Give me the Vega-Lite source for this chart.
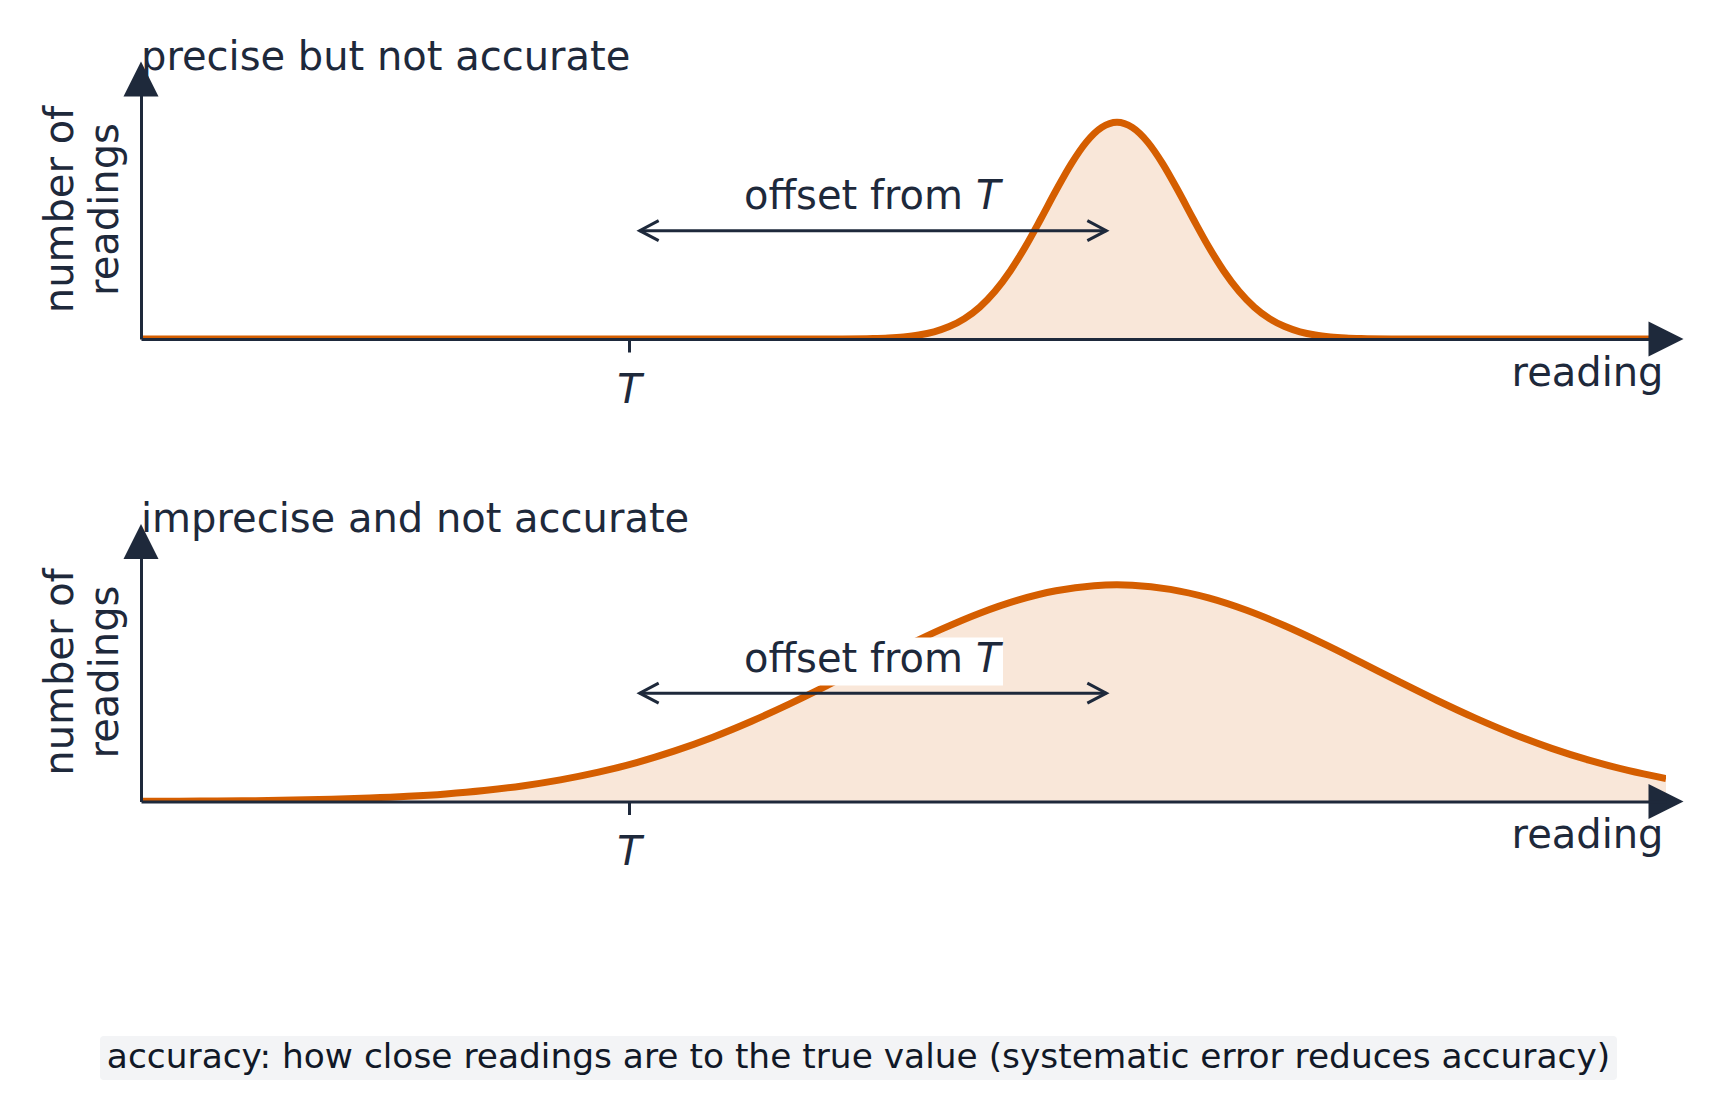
{
  "$schema": "https://vega.github.io/schema/vega-lite/v6.json",
  "padding": {"left": 40, "top": 37, "right": 5, "bottom": 5},
  "background": "white",
  "datasets": {
    "precise": [
      {"reading": 0, "count": 0}, {"reading": 1, "count": 0}, {"reading": 2, "count": 0},
      {"reading": 3, "count": 0}, {"reading": 4, "count": 0}, {"reading": 4.4, "count": 0.00008},
      {"reading": 4.6, "count": 0.00047}, {"reading": 4.8, "count": 0.00236}, {"reading": 4.9, "count": 0.0049},
      {"reading": 5.0, "count": 0.00975}, {"reading": 5.1, "count": 0.0184}, {"reading": 5.2, "count": 0.0333},
      {"reading": 5.3, "count": 0.0573}, {"reading": 5.4, "count": 0.0941}, {"reading": 5.5, "count": 0.1475},
      {"reading": 5.6, "count": 0.2204}, {"reading": 5.7, "count": 0.3142}, {"reading": 5.8, "count": 0.4271},
      {"reading": 5.9, "count": 0.5539}, {"reading": 6.0, "count": 0.6852}, {"reading": 6.1, "count": 0.8084},
      {"reading": 6.2, "count": 0.9098}, {"reading": 6.3, "count": 0.9766}, {"reading": 6.4, "count": 1},
      {"reading": 6.5, "count": 0.9766}, {"reading": 6.6, "count": 0.9098}, {"reading": 6.7, "count": 0.8084},
      {"reading": 6.8, "count": 0.6852}, {"reading": 6.9, "count": 0.5539}, {"reading": 7.0, "count": 0.4271},
      {"reading": 7.1, "count": 0.3142}, {"reading": 7.2, "count": 0.2204}, {"reading": 7.3, "count": 0.1475},
      {"reading": 7.4, "count": 0.0941}, {"reading": 7.5, "count": 0.0573}, {"reading": 7.6, "count": 0.0333},
      {"reading": 7.7, "count": 0.0184}, {"reading": 7.8, "count": 0.00975}, {"reading": 7.9, "count": 0.0049},
      {"reading": 8.0, "count": 0.00236}, {"reading": 8.2, "count": 0.00047}, {"reading": 8.4, "count": 0.00008},
      {"reading": 9, "count": 0}, {"reading": 10, "count": 0}
    ],
    "imprecise": [
      {"reading": 0, "count": 0.00084}, {"reading": 0.25, "count": 0.00144}, {"reading": 0.5, "count": 0.00242},
      {"reading": 0.75, "count": 0.00399}, {"reading": 1.0, "count": 0.00644}, {"reading": 1.25, "count": 0.01017},
      {"reading": 1.5, "count": 0.01571}, {"reading": 1.75, "count": 0.02373}, {"reading": 2.0, "count": 0.0351},
      {"reading": 2.25, "count": 0.0508}, {"reading": 2.5, "count": 0.0719}, {"reading": 2.75, "count": 0.0998},
      {"reading": 3.0, "count": 0.1353}, {"reading": 3.25, "count": 0.1796}, {"reading": 3.5, "count": 0.2334},
      {"reading": 3.75, "count": 0.2967}, {"reading": 4.0, "count": 0.3692}, {"reading": 4.25, "count": 0.4494},
      {"reading": 4.5, "count": 0.5355}, {"reading": 4.75, "count": 0.6244}, {"reading": 5.0, "count": 0.7124},
      {"reading": 5.25, "count": 0.7955}, {"reading": 5.5, "count": 0.8692}, {"reading": 5.75, "count": 0.9295},
      {"reading": 6.0, "count": 0.9727}, {"reading": 6.25, "count": 0.9961}, {"reading": 6.4, "count": 1},
      {"reading": 6.5, "count": 0.9983}, {"reading": 6.75, "count": 0.979}, {"reading": 7.0, "count": 0.9396},
      {"reading": 7.25, "count": 0.8825}, {"reading": 7.5, "count": 0.8111}, {"reading": 7.75, "count": 0.7296},
      {"reading": 8.0, "count": 0.6422}, {"reading": 8.25, "count": 0.5531}, {"reading": 8.5, "count": 0.4663},
      {"reading": 8.75, "count": 0.3847}, {"reading": 9.0, "count": 0.3105}, {"reading": 9.25, "count": 0.2453},
      {"reading": 9.5, "count": 0.1896}, {"reading": 9.75, "count": 0.1435}, {"reading": 10.0, "count": 0.1062}
    ],
    "offset": [
      {"from": 3.27, "to": 6.33, "arrow_y": 0.5, "mid": 4.8, "label_y": 0.6, "label": "offset from", "symbol": "T"}
    ],
    "note": [
      {"text": "accuracy: how close readings are to the true value (systematic error reduces accuracy)"}
    ]
  },
  "bounds": "flush",
  "spacing": 202.5,
  "vconcat": [
    {
      "width": 1525,
      "height": 260,
      "title": {"text": "precise but not accurate"},
      "layer": [
        {
          "data": {"name": "precise"},
          "mark": {"type": "area", "interpolate": "monotone", "color": "#d55e00", "opacity": 0.15, "clip": true},
          "encoding": {
            "x": {
              "field": "reading", "type": "quantitative", "scale": {"domain": [0, 10]},
              "axis": {
                "values": [3.2], "labelExpr": "'T'", "labelFontStyle": "italic", "labelFontSize": 40,
                "labelPadding": 18, "tickSize": 13, "tickWidth": 3, "domainWidth": 3, "grid": false,
                "title": "reading", "titleFontSize": 40, "titleFontWeight": "normal", "titleAlign": "right",
                "titleBaseline": "alphabetic", "titleX": 1522, "titleY": 46, "zindex": 1
              }
            },
            "y": {
              "field": "count", "type": "quantitative", "scale": {"domain": [0, 1.2]},
              "axis": {
                "ticks": false, "labels": false, "grid": false, "domainWidth": 3,
                "title": ["number of", "readings"], "titleFontSize": 40, "titleFontWeight": "normal",
                "titleLineHeight": 45, "titlePadding": 16, "zindex": 1
              }
            }
          }
        },
        {
          "data": {"name": "precise"},
          "mark": {"type": "line", "interpolate": "monotone", "color": "#d55e00", "strokeWidth": 7, "clip": true},
          "encoding": {
            "x": {"field": "reading", "type": "quantitative"},
            "y": {"field": "count", "type": "quantitative"}
          }
        },
        {
          "data": {"values": [{}]},
          "mark": {"type": "point", "shape": "M0,-1L1,1L-1,1Z", "filled": true, "color": "#1e293b", "size": 1225, "opacity": 1},
          "encoding": {"x": {"datum": 0}, "y": {"datum": 1.2}}
        },
        {
          "data": {"values": [{}]},
          "mark": {"type": "point", "shape": "M-1,-1L1,0L-1,1Z", "filled": true, "color": "#1e293b", "size": 1225, "opacity": 1},
          "encoding": {"x": {"datum": 10}, "y": {"datum": 0}}
        },
        {
          "data": {"name": "offset"},
          "mark": {"type": "rule", "color": "#1e293b", "strokeWidth": 3},
          "encoding": {
            "x": {"field": "from", "type": "quantitative"},
            "x2": {"field": "to"},
            "y": {"field": "arrow_y", "type": "quantitative"}
          }
        },
        {
          "data": {"name": "offset"},
          "mark": {"type": "point", "shape": "M0.95,-0.5L0,0L0.95,0.5", "filled": false, "color": "#1e293b", "strokeWidth": 3, "size": 1600, "opacity": 1},
          "encoding": {
            "x": {"field": "from", "type": "quantitative"},
            "y": {"field": "arrow_y", "type": "quantitative"}
          }
        },
        {
          "data": {"name": "offset"},
          "mark": {"type": "point", "shape": "M-0.95,-0.5L0,0L-0.95,0.5", "filled": false, "color": "#1e293b", "strokeWidth": 3, "size": 1600, "opacity": 1},
          "encoding": {
            "x": {"field": "to", "type": "quantitative"},
            "y": {"field": "arrow_y", "type": "quantitative"}
          }
        },
        {
          "data": {"name": "offset"},
          "mark": {"type": "point", "shape": "M-1.007,-0.252H0.963V0.104H-1.007Z", "filled": true, "color": "white", "size": 72900, "opacity": 1},
          "encoding": {
            "x": {"field": "mid", "type": "quantitative"},
            "y": {"field": "label_y", "type": "quantitative"}
          }
        },
        {
          "data": {"name": "offset"},
          "mark": {"type": "text", "align": "right", "baseline": "alphabetic", "dx": 90, "fontSize": 40, "color": "#1e293b"},
          "encoding": {
            "x": {"field": "mid", "type": "quantitative"},
            "y": {"field": "label_y", "type": "quantitative"},
            "text": {"field": "label"}
          }
        },
        {
          "data": {"name": "offset"},
          "mark": {"type": "text", "align": "left", "baseline": "alphabetic", "dx": 103, "fontSize": 40, "fontStyle": "italic", "color": "#1e293b"},
          "encoding": {
            "x": {"field": "mid", "type": "quantitative"},
            "y": {"field": "label_y", "type": "quantitative"},
            "text": {"field": "symbol"}
          }
        }
      ]
    },
    {
      "width": 1525,
      "height": 260,
      "title": {"text": "imprecise and not accurate"},
      "layer": [
        {
          "data": {"name": "imprecise"},
          "mark": {"type": "area", "interpolate": "monotone", "color": "#d55e00", "opacity": 0.15, "clip": true},
          "encoding": {
            "x": {
              "field": "reading", "type": "quantitative", "scale": {"domain": [0, 10]},
              "axis": {
                "values": [3.2], "labelExpr": "'T'", "labelFontStyle": "italic", "labelFontSize": 40,
                "labelPadding": 18, "tickSize": 13, "tickWidth": 3, "domainWidth": 3, "grid": false,
                "title": "reading", "titleFontSize": 40, "titleFontWeight": "normal", "titleAlign": "right",
                "titleBaseline": "alphabetic", "titleX": 1522, "titleY": 46, "zindex": 1
              }
            },
            "y": {
              "field": "count", "type": "quantitative", "scale": {"domain": [0, 1.2]},
              "axis": {
                "ticks": false, "labels": false, "grid": false, "domainWidth": 3,
                "title": ["number of", "readings"], "titleFontSize": 40, "titleFontWeight": "normal",
                "titleLineHeight": 45, "titlePadding": 16, "zindex": 1
              }
            }
          }
        },
        {
          "data": {"name": "imprecise"},
          "mark": {"type": "line", "interpolate": "monotone", "color": "#d55e00", "strokeWidth": 7, "clip": true},
          "encoding": {
            "x": {"field": "reading", "type": "quantitative"},
            "y": {"field": "count", "type": "quantitative"}
          }
        },
        {
          "data": {"values": [{}]},
          "mark": {"type": "point", "shape": "M0,-1L1,1L-1,1Z", "filled": true, "color": "#1e293b", "size": 1225, "opacity": 1},
          "encoding": {"x": {"datum": 0}, "y": {"datum": 1.2}}
        },
        {
          "data": {"values": [{}]},
          "mark": {"type": "point", "shape": "M-1,-1L1,0L-1,1Z", "filled": true, "color": "#1e293b", "size": 1225, "opacity": 1},
          "encoding": {"x": {"datum": 10}, "y": {"datum": 0}}
        },
        {
          "data": {"name": "offset"},
          "mark": {"type": "rule", "color": "#1e293b", "strokeWidth": 3},
          "encoding": {
            "x": {"field": "from", "type": "quantitative"},
            "x2": {"field": "to"},
            "y": {"field": "arrow_y", "type": "quantitative"}
          }
        },
        {
          "data": {"name": "offset"},
          "mark": {"type": "point", "shape": "M0.95,-0.5L0,0L0.95,0.5", "filled": false, "color": "#1e293b", "strokeWidth": 3, "size": 1600, "opacity": 1},
          "encoding": {
            "x": {"field": "from", "type": "quantitative"},
            "y": {"field": "arrow_y", "type": "quantitative"}
          }
        },
        {
          "data": {"name": "offset"},
          "mark": {"type": "point", "shape": "M-0.95,-0.5L0,0L-0.95,0.5", "filled": false, "color": "#1e293b", "strokeWidth": 3, "size": 1600, "opacity": 1},
          "encoding": {
            "x": {"field": "to", "type": "quantitative"},
            "y": {"field": "arrow_y", "type": "quantitative"}
          }
        },
        {
          "data": {"name": "offset"},
          "mark": {"type": "point", "shape": "M-1.007,-0.252H0.963V0.104H-1.007Z", "filled": true, "color": "white", "size": 72900, "opacity": 1},
          "encoding": {
            "x": {"field": "mid", "type": "quantitative"},
            "y": {"field": "label_y", "type": "quantitative"}
          }
        },
        {
          "data": {"name": "offset"},
          "mark": {"type": "text", "align": "right", "baseline": "alphabetic", "dx": 90, "fontSize": 40, "color": "#1e293b"},
          "encoding": {
            "x": {"field": "mid", "type": "quantitative"},
            "y": {"field": "label_y", "type": "quantitative"},
            "text": {"field": "label"}
          }
        },
        {
          "data": {"name": "offset"},
          "mark": {"type": "text", "align": "left", "baseline": "alphabetic", "dx": 103, "fontSize": 40, "fontStyle": "italic", "color": "#1e293b"},
          "encoding": {
            "x": {"field": "mid", "type": "quantitative"},
            "y": {"field": "label_y", "type": "quantitative"},
            "text": {"field": "symbol"}
          }
        }
      ]
    },
    {
      "width": 1435,
      "height": 108,
      "data": {"name": "note"},
      "layer": [
        {
          "mark": {
            "type": "point",
            "shape": "M-0.9947,-0.029H0.9947Q1,-0.029 1,-0.0237V0.0237Q1,0.029 0.9947,0.029H-0.9947Q-1,0.029 -1,0.0237V-0.0237Q-1,-0.029 -0.9947,-0.029Z",
            "filled": true, "color": "#f3f4f6", "size": 2301289, "opacity": 1
          }
        },
        {
          "mark": {"type": "text", "fontSize": 34.4, "color": "#111827", "baseline": "middle"},
          "encoding": {"text": {"field": "text", "type": "nominal"}}
        }
      ]
    }
  ],
  "config": {
    "font": "DejaVu Sans",
    "view": {"stroke": null},
    "axis": {
      "domainColor": "#1e293b", "tickColor": "#1e293b", "labelColor": "#1e293b", "titleColor": "#1e293b",
      "labelFont": "DejaVu Sans", "titleFont": "DejaVu Sans"
    },
    "title": {
      "anchor": "start", "frame": "group", "fontSize": 40, "fontWeight": "normal", "color": "#1e293b",
      "baseline": "alphabetic", "offset": -16, "font": "DejaVu Sans"
    },
    "text": {"font": "DejaVu Sans"}
  }
}
